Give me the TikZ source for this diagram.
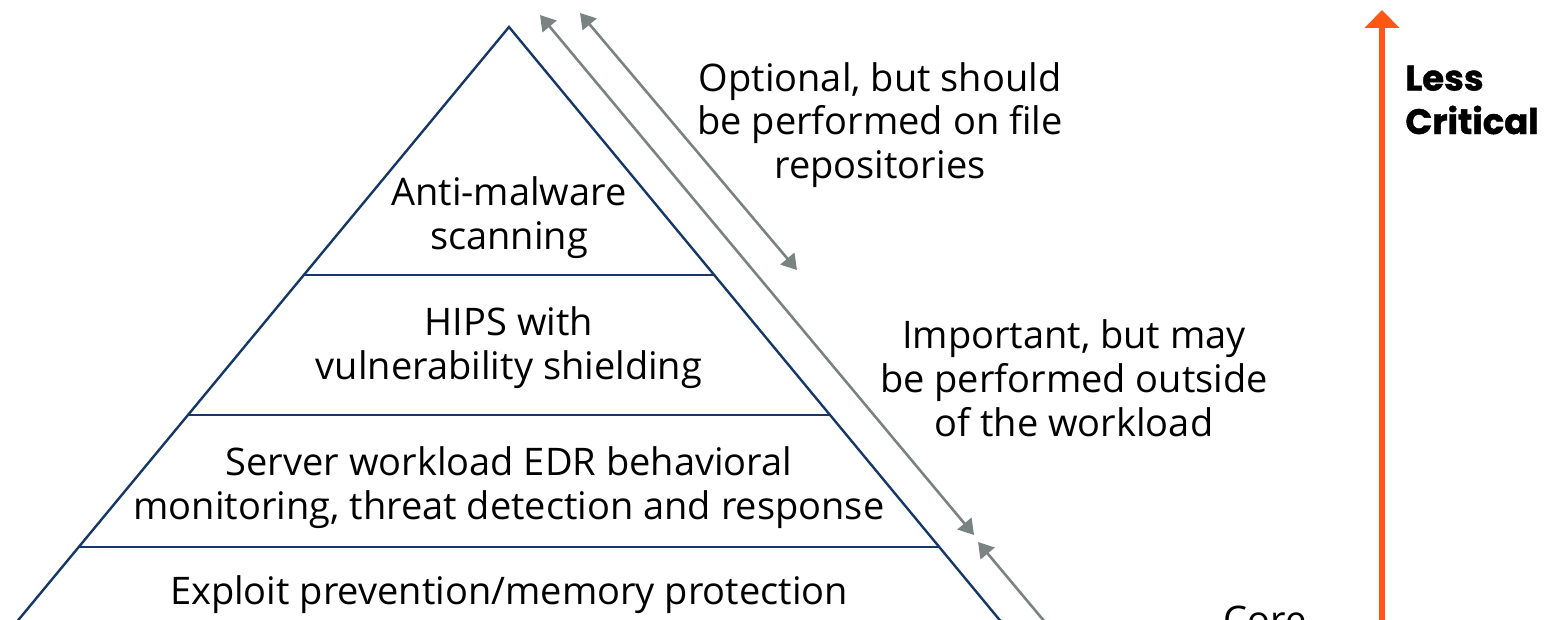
\documentclass[tikz,border=0pt]{standalone}
\usepackage{fontspec}
\setmainfont{Open Sans}
\newfontfamily\heavyfont{Poppins}[BoldFeatures={FakeBold=1.2}]
\usetikzlibrary{arrows.meta}
\definecolor{navy}{RGB}{22,56,102}
\definecolor{arrowgrey}{RGB}{122,130,130}
\definecolor{accent}{RGB}{255,87,20}
\tikzset{gtip/.tip={Triangle[length=7.5pt,width=9pt]}}
\begin{document}
\begin{tikzpicture}[x=0.5pt,y=-0.5pt,
  side/.style={draw=navy, line width=1.2pt},
  tier/.style={draw=navy, line width=1.3pt},
  label/.style={align=center, text=black, font=\fontsize{19}{21.9}\selectfont, inner sep=0pt},
  heavylabel/.style={align=left, text=black, font=\heavyfont\bfseries\fontsize{17.7}{21.75}\selectfont, inner sep=0pt},
  span/.style={draw=arrowgrey, fill=arrowgrey, line width=1.3pt},
  scale arrow/.style={draw=accent, line width=3pt, -{Triangle[length=9pt,width=17pt]}}
]
\useasboundingbox (0,0) rectangle (1552,620);
% pyramid
\coordinate (apex) at (509,27);
\coordinate (bl) at (1.8,640);
\coordinate (br) at (1016.2,640);
\draw[side] (bl) -- (apex) -- (br);
\coordinate (t1l) at (303.4,275); \coordinate (t1r) at (714.6,275);
\coordinate (t2l) at (187.3,415); \coordinate (t2r) at (830.7,415);
\coordinate (t3l) at (77.9,547);  \coordinate (t3r) at (940.1,547);
\draw[tier] (t1l) -- (t1r);
\draw[tier] (t2l) -- (t2r);
\draw[tier] (t3l) -- (t3r);
% tier labels
\node[label] (antimalware) at (509,218) {Anti-malware\\scanning};
\node[label] (hips) at (509,348) {HIPS with\\vulnerability shielding};
\node[label] (edr) at (509,488) {Server workload EDR behavioral\\monitoring, threat detection and response};
\node[label] (exploit) at (509,595) {Exploit prevention/memory protection};
% side notes
\node[label] (optional) at (880,125) {Optional, but should\\be performed on file\\repositories};
\node[label] (important) at (1074,378) {Important, but may\\be performed outside\\of the workload};
\node[label, anchor=base] (core) at (1265,633) {Core};
% grey range arrows
\coordinate (a1s) at (540,15);  \coordinate (a1e) at (974,535);
\coordinate (a2s) at (580,13);  \coordinate (a2e) at (797,270);
\coordinate (a3s) at (1060,640); \coordinate (a3e) at (978,542);
\draw[span, gtip-gtip] (a1s) -- (a1e);
\draw[span, gtip-gtip] (a2s) -- (a2e);
\draw[span, -gtip] (a3s) -- (a3e);
% criticality scale
\coordinate (scalebot) at (1382,640);
\coordinate (scaletop) at (1382,10);
\draw[scale arrow] (scalebot) -- (scaletop);
\node[heavylabel, anchor=west] (less) at (1405,100) {Less\\Critical};
\end{tikzpicture}
\end{document}
